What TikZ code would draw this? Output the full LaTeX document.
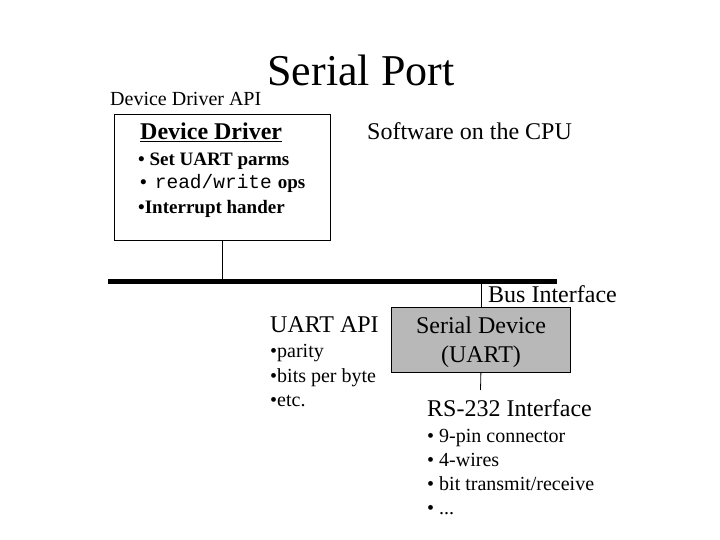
\documentclass[tikz,border=0pt]{standalone}
\usepackage{fontspec}
\setmainfont{Liberation Serif}
\setmonofont{Liberation Mono}
\begin{document}
\begin{tikzpicture}[x=1pt,y=-1pt,
  txt/.style={inner sep=0pt, anchor=base west},
  big/.style={font=\fontsize{24}{28}\selectfont},
  small/.style={font=\fontsize{20}{24}\selectfont},
  smallb/.style={font=\fontsize{19}{23}\selectfont\bfseries},
  conn/.style={line width=0.8pt}]
\useasboundingbox (0,0) rectangle (720,540);
% title
\node[inner sep=0pt, anchor=base, font=\fontsize{44}{50}\selectfont] (title) at (361,86) {Serial Port};
\node[txt, font=\fontsize{20}{24}\selectfont] (ddapi) at (110,106) {Device Driver API};
% device driver box
\node[draw, line width=0.9pt, minimum width=216, minimum height=126, anchor=north west, inner sep=0pt] (ddbox) at (114,114) {};
\node[txt, big] (ddtitle) at (140,140) {\bfseries\underline{Device Driver}};
\node[txt, smallb] (b1) at (138,166) {• Set UART parms};
\node[txt, smallb] (b2) at (140,189) {•\hspace{8pt}{\mdseries\ttfamily\fontsize{19.5}{23}\selectfont read/write}\hspace{6pt}ops};
\node[txt, smallb] (b3) at (138,214) {•Interrupt hander};
\node[txt, big] (sw) at (367,140) {Software on the CPU};
% bus
\coordinate (busL) at (108,281);
\coordinate (busR) at (557,281);
\draw[line width=5pt] (busL) -- (busR);
\draw[conn] (ddbox.south) -- (ddbox.south |- busL);
% UART box
\node[draw, fill=black!28, line width=0.8pt, minimum width=179, minimum height=65, anchor=north west, inner sep=0pt] (uart) at (391,307) {};
\node[inner sep=0pt, anchor=base, big] (sd1) at (481,333) {Serial Device};
\node[inner sep=0pt, anchor=base, big] (sd2) at (481,362) {(UART)};
\draw[conn] (uart.north) -- (uart.north |- busL);
\coordinate (rsEnd) at (480.5,390);
\draw[conn] (uart.south) -- (rsEnd);
\node[txt, big] (busif) at (488,302) {Bus Interface};
% UART API
\node[txt, big] (uapi) at (270,332) {UART API};
\node[txt, small] (u1) at (270,357) {•parity};
\node[txt, small] (u2) at (270,382) {•bits per byte};
\node[txt, small] (u3) at (270,406) {•etc.};
% RS-232
\node[txt, big] (rs) at (427,416) {RS-232 Interface};
\node[txt, small] (r1) at (427,442) {• 9-pin connector};
\node[txt, small] (r2) at (427,466) {• 4-wires};
\node[txt, small] (r3) at (427,490) {• bit transmit/receive};
\node[txt, small] (r4) at (427,514) {• ...};
\end{tikzpicture}
\end{document}
